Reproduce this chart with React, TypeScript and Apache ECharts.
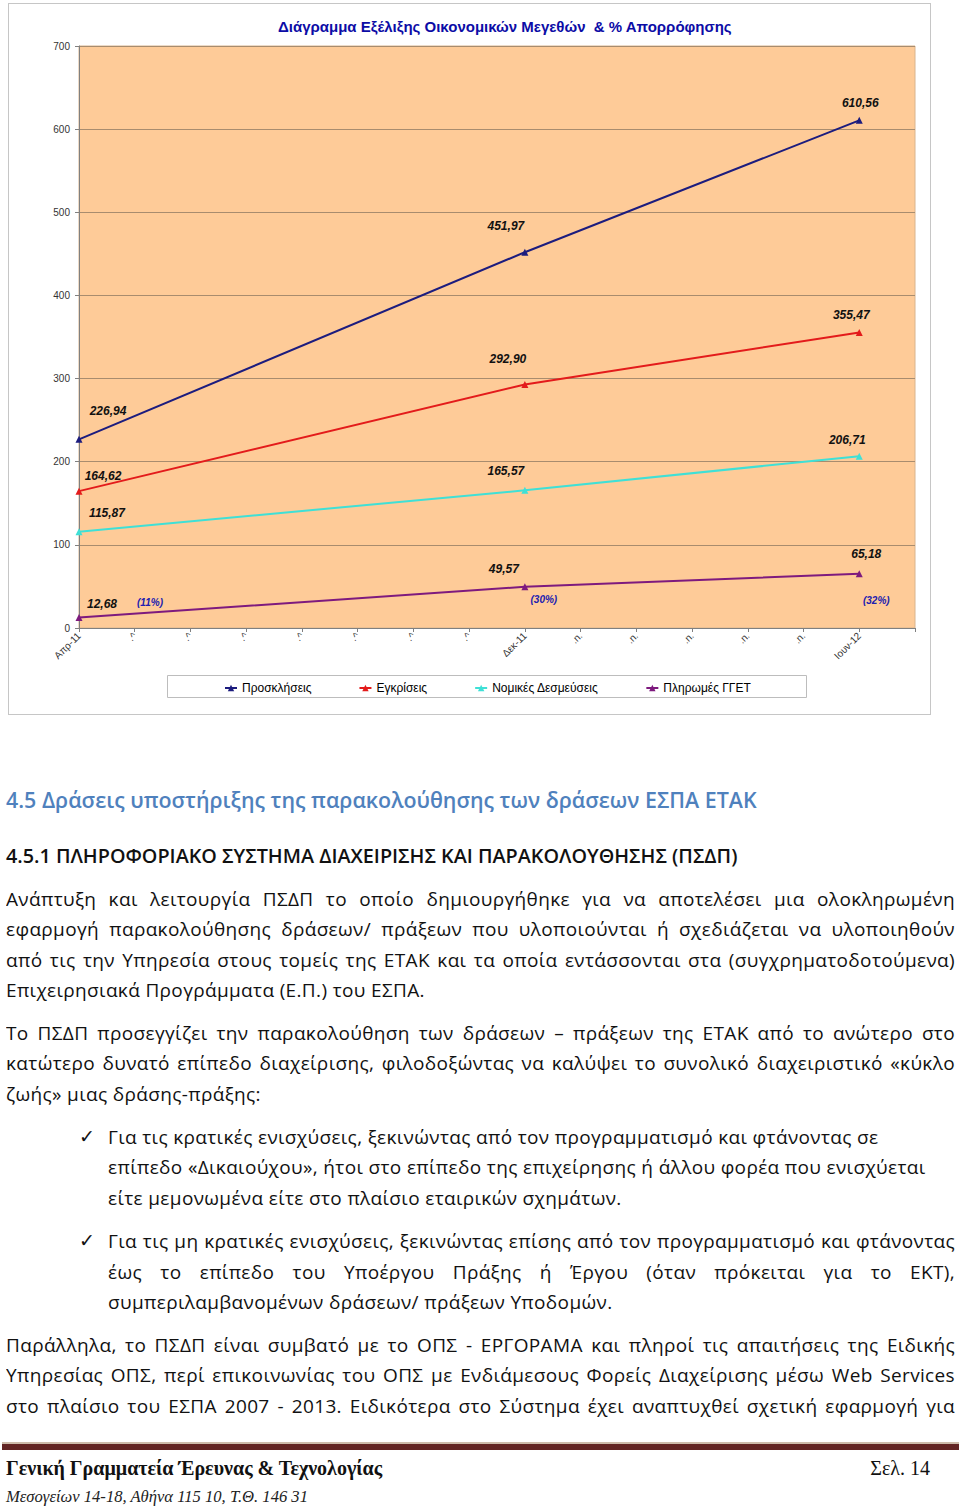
import React, { useEffect, useRef } from "react";
import * as echarts from "echarts";

// ---------- data ----------
const categories = [
  "Απρ-11", "Μαϊ-11", "Ιουν-11", "Ιουλ-11", "Αυγ-11", "Σεπ-11", "Οκτ-11", "Νοε-11",
  "Δεκ-11", "Ιαν-12", "Φεβ-12", "Μαρ-12", "Απρ-12", "Μαϊ-12", "Ιουν-12", "Ιουλ-12",
];
const tickLabels = [
  "Απρ-11", ".^", ".^", ".^", ".^", ".^", ".^", ".^",
  "Δεκ-11", ".n.", ".n.", ".n.", ".n.", ".n.", "Ιουν-12", "",
];
const pointIndex = [0, 8, 14];
const seriesNames = ["Προσκλήσεις", "Εγκρίσεις", "Νομικές Δεσμεύσεις", "Πληρωμές ΓΓΕΤ"];
const invitations = [226.94, 451.97, 610.56];
const approvals = [164.62, 292.9, 355.47];
const commitments = [115.87, 165.57, 206.71];
const payments = [12.68, 49.57, 65.18];
const absorption = ["(11%)", "(30%)", "(32%)"];
const yMin = 0;
const yMax = 700;
const yInterval = 100;
const chartTitle = "Διάγραμμα Εξέλιξης Οικονομικών Μεγεθών  & % Απορρόφησης";

// ---------- styling ----------
const colors = ["#1C1C7E", "#E31B1B", "#3FE0D6", "#7E1A7E"];
const labelOffsets: number[][][] = [
  [[29, -28], [-19, -26], [1, -17]],
  [[24, -15], [-17, -25], [-8, -17]],
  [[28, -19], [-19, -19], [-12, -16]],
  [[23, -13], [-21, -18], [7, -20]],
];
const pctOffsets = [[71, -15], [19, 13], [17, 27]];
const FF = "'Liberation Sans', Arial, sans-serif";

function buildData(vals: number[], offsets: number[][]) {
  const arr: any[] = categories.map(() => "-");
  pointIndex.forEach((ci, k) => {
    arr[ci] = { value: vals[k], label: { offset: offsets[k] } };
  });
  return arr;
}

function Chart() {
  const ref = useRef<HTMLDivElement>(null);
  useEffect(() => {
    if (!ref.current) return;
    const chart = echarts.init(ref.current, undefined, { renderer: "svg" });
    const all = [invitations, approvals, commitments, payments];
    const series: any[] = all.map((vals, i) => ({
      name: seriesNames[i],
      type: "line",
      data: buildData(vals, labelOffsets[i]),
      connectNulls: true,
      symbol: "triangle",
      symbolSize: 7,
      lineStyle: { color: colors[i], width: 2 },
      itemStyle: { color: colors[i] },
      label: {
        show: true,
        position: "inside",
        formatter: (p: any) => Number(p.value).toFixed(2).replace(".", ","),
        fontFamily: FF,
        fontWeight: "bold",
        fontStyle: "italic",
        fontSize: 12,
        color: "#111",
      },
      z: 3 + i,
    }));
    series.push({
      name: "%",
      type: "line",
      data: buildData(payments, pctOffsets),
      connectNulls: true,
      symbol: "circle",
      symbolSize: 1,
      lineStyle: { width: 0, opacity: 0 },
      itemStyle: { color: "rgba(0,0,0,0)" },
      silent: true,
      label: {
        show: true,
        position: "inside",
        formatter: (p: any) => absorption[pointIndex.indexOf(p.dataIndex)],
        fontFamily: FF,
        fontWeight: "bold",
        fontStyle: "italic",
        fontSize: 10,
        color: "#2020B0",
      },
      z: 10,
    });

    chart.setOption({
      animation: false,
      backgroundColor: "transparent",
      title: {
        text: chartTitle,
        left: 273,
        top: 14,
        textStyle: { fontFamily: FF, fontSize: 15, fontWeight: "bold", color: "#0C0CA6" },
      },
      grid: {
        left: 79,
        right: 45,
        top: 46,
        bottom: 92,
        show: true,
        backgroundColor: "#FECB98",
        borderColor: "#D9B48E",
        borderWidth: 1,
      },
      xAxis: {
        type: "category",
        data: categories,
        boundaryGap: false,
        axisLine: { lineStyle: { color: "#808080" } },
        axisTick: { show: true, length: 4, lineStyle: { color: "#808080" } },
        axisLabel: {
          interval: 0,
          rotate: 45,
          fontSize: 10,
          fontFamily: FF,
          color: "#333",
          margin: 6,
          formatter: (_v: string, i: number) => tickLabels[i],
        },
        splitLine: { show: false },
      },
      yAxis: {
        type: "value",
        min: yMin,
        max: yMax,
        interval: yInterval,
        axisLine: { show: true, lineStyle: { color: "#808080" } },
        axisTick: { show: true, length: 4, lineStyle: { color: "#808080" } },
        axisLabel: { fontSize: 10, fontFamily: FF, color: "#333", margin: 9 },
        splitLine: { lineStyle: { color: "#A88C6E", width: 1 } },
      },
      legend: {
        data: seriesNames,
        left: 219,
        top: 677,
        itemGap: 47,
        itemWidth: 12,
        itemHeight: 8,
        textStyle: { fontFamily: FF, fontSize: 12, color: "#000" },
        z: 5,
      },
      graphic: [
        {
          type: "rect",
          shape: { x: 167.5, y: 675.5, width: 639, height: 22 },
          style: { fill: "#fff", stroke: "#BDBDBD", lineWidth: 1 },
          z: 1,
        },
      ],
      series,
    });
    return () => chart.dispose();
  }, []);
  return (
    <div
      ref={ref}
      style={{ position: "absolute", left: 0, top: 0, width: 960, height: 720 }}
    />
  );
}

const BODY = "'Open Sans', 'Noto Sans', sans-serif";

type Line = { t: string; y: number; x?: number; j?: boolean };

const bodyLines: Line[] = [
  { t: "Ανάπτυξη και λειτουργία ΠΣΔΠ το οποίο δημιουργήθηκε για να αποτελέσει μια ολοκληρωμένη", y: 899, j: true },
  { t: "εφαρμογή παρακολούθησης δράσεων/ πράξεων που υλοποιούνται ή σχεδιάζεται να υλοποιηθούν", y: 929, j: true },
  { t: "από τις την Υπηρεσία στους τομείς της ΕΤΑΚ και τα οποία εντάσσονται στα (συγχρηματοδοτούμενα)", y: 960, j: true },
  { t: "Επιχειρησιακά Προγράμματα (Ε.Π.) του ΕΣΠΑ.", y: 990 },
  { t: "Το ΠΣΔΠ προσεγγίζει την παρακολούθηση των δράσεων – πράξεων της ΕΤΑΚ από το ανώτερο στο", y: 1033, j: true },
  { t: "κατώτερο δυνατό επίπεδο διαχείρισης, φιλοδοξώντας να καλύψει το συνολικό διαχειριστικό «κύκλο", y: 1063, j: true },
  { t: "ζωής» μιας δράσης-πράξης:", y: 1094 },
  { t: "Για τις κρατικές ενισχύσεις, ξεκινώντας από τον προγραμματισμό και φτάνοντας σε", y: 1137, x: 108 },
  { t: "επίπεδο «Δικαιούχου», ήτοι στο επίπεδο της επιχείρησης ή άλλου φορέα που ενισχύεται", y: 1167, x: 108 },
  { t: "είτε μεμονωμένα είτε στο πλαίσιο εταιρικών σχημάτων.", y: 1198, x: 108 },
  { t: "Για τις μη κρατικές ενισχύσεις, ξεκινώντας επίσης από τον προγραμματισμό και φτάνοντας", y: 1241, x: 108, j: true },
  { t: "έως το επίπεδο του Υποέργου Πράξης ή Έργου (όταν πρόκειται για το ΕΚΤ),", y: 1272, x: 108, j: true },
  { t: "συμπεριλαμβανομένων δράσεων/ πράξεων Υποδομών.", y: 1302, x: 108 },
  { t: "Παράλληλα, το ΠΣΔΠ είναι συμβατό με το ΟΠΣ - ΕΡΓΟΡΑΜΑ και πληροί τις απαιτήσεις της Ειδικής", y: 1345, j: true },
  { t: "Υπηρεσίας ΟΠΣ, περί επικοινωνίας του ΟΠΣ με Ενδιάμεσους Φορείς Διαχείρισης μέσω Web Services", y: 1375, j: true },
  { t: "στο πλαίσιο του ΕΣΠΑ 2007 - 2013. Ειδικότερα στο Σύστημα έχει αναπτυχθεί σχετική εφαρμογή για", y: 1406, j: true },
];

function TextLine({ l }: { l: Line }) {
  const x = l.x ?? 6;
  return (
    <div
      style={{
        position: "absolute",
        left: x,
        top: l.y - 15,
        width: 955 - x,
        height: 30,
        lineHeight: "30px",
        fontFamily: BODY,
        fontSize: 19,
        letterSpacing: "0.35px",
        color: "#111",
        textAlign: l.j ? "justify" : "left",
        textAlignLast: l.j ? "justify" : "left",
        overflow: "hidden",
        whiteSpace: "pre-wrap",
      } as any}
    >
      {l.t}
    </div>
  );
}

export default function App() {
  return (
    <div style={{ position: "absolute", left: 0, top: 0, width: 960, height: 1510, background: "#fff", overflow: "hidden" }}>
      <div
        style={{
          position: "absolute",
          left: 8,
          top: 3,
          width: 921,
          height: 710,
          border: "1px solid #C6C6C6",
          background: "#fff",
        }}
      />
      <Chart />
      <div
        style={{
          position: "absolute", left: 6, top: 785, height: 30, lineHeight: "30px",
          fontFamily: BODY, fontSize: 21.4, fontWeight: 600, color: "#4F81BD", whiteSpace: "nowrap",
        }}
      >
        4.5 Δράσεις υποστήριξης της παρακολούθησης των δράσεων ΕΣΠΑ ΕΤΑΚ
      </div>
      <div
        style={{
          position: "absolute", left: 6, top: 841, height: 30, lineHeight: "30px",
          fontFamily: BODY, fontSize: 19.8, fontWeight: 600, color: "#111", whiteSpace: "nowrap",
        }}
      >
        4.5.1 ΠΛΗΡΟΦΟΡΙΑΚΟ ΣΥΣΤΗΜΑ ΔΙΑΧΕΙΡΙΣΗΣ ΚΑΙ ΠΑΡΑΚΟΛΟΥΘΗΣΗΣ (ΠΣΔΠ)
      </div>
      {bodyLines.map((l, i) => (
        <TextLine key={i} l={l} />
      ))}
      {[1137, 1241].map((y) => (
        <div
          key={y}
          style={{
            position: "absolute", left: 79, top: y - 16, height: 30, lineHeight: "30px",
            fontFamily: "'DejaVu Sans', sans-serif", fontSize: 19, color: "#111",
          }}
        >
          ✓
        </div>
      ))}
      <div style={{ position: "absolute", left: 2, top: 1442, width: 957, height: 2, background: "#CDBBAA" }} />
      <div style={{ position: "absolute", left: 2, top: 1444, width: 957, height: 6, background: "#622423" }} />
      <div
        style={{
          position: "absolute", left: 6, top: 1455, height: 26, lineHeight: "26px",
          fontFamily: "'Liberation Serif', serif", fontSize: 20, fontWeight: "bold", color: "#111", whiteSpace: "nowrap",
        }}
      >
        Γενική Γραμματεία Έρευνας &amp; Τεχνολογίας
      </div>
      <div
        style={{
          position: "absolute", right: 30, top: 1455, height: 26, lineHeight: "26px",
          fontFamily: "'Liberation Serif', serif", fontSize: 20, color: "#111", whiteSpace: "nowrap",
        }}
      >
        Σελ. 14
      </div>
      <div
        style={{
          position: "absolute", left: 6, top: 1486, height: 22, lineHeight: "22px",
          fontFamily: "'Liberation Serif', serif", fontSize: 16.6, fontStyle: "italic", color: "#222", whiteSpace: "nowrap",
        }}
      >
        Μεσογείων 14-18, Αθήνα 115 10, Τ.Θ. 146 31
      </div>
    </div>
  );
}
